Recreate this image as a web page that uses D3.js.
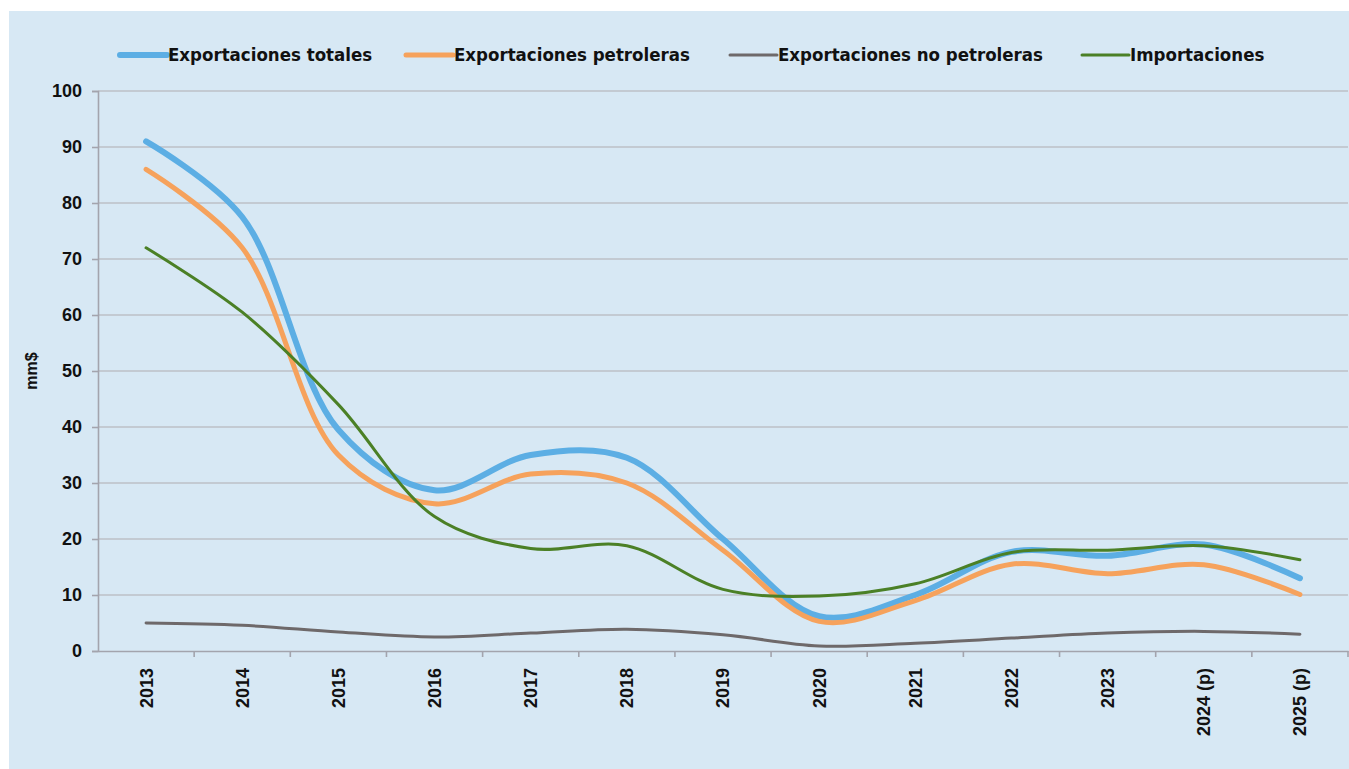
<!DOCTYPE html>
<meta charset="utf-8">
<style>
    body { margin: 0; background: #ffffff; }
    svg { display: block; }
    .tick text { font-family: "Liberation Sans", Arial, sans-serif; font-weight: bold; font-size: 18px; fill: #111; }
    .legend text { font-family: "DejaVu Sans Condensed", "DejaVu Sans", sans-serif; font-weight: bold; font-size: 18.5px; fill: #111; }
</style>
<svg id="chart"></svg>
<script src="https://cdn.jsdelivr.net/npm/d3@7"></script>
<script>
    // data (mm$)
    var years = ["2013", "2014", "2015", "2016", "2017", "2018", "2019", "2020", "2021", "2022", "2023", "2024 (p)", "2025 (p)"];
    var expTotales = [91, 77.5, 39.5, 28.7, 35, 34.5, 20, 6.2, 10, 17.7, 17, 19, 13];
    var expPetroleras = [86, 72, 35, 26.3, 31.6, 30, 18, 5.3, 9, 15.5, 13.8, 15.4, 10.1];
    var expNoPetroleras = [5, 4.6, 3.4, 2.5, 3.2, 3.9, 2.9, 0.9, 1.4, 2.3, 3.2, 3.5, 3.0];
    var importaciones = [72, 60.5, 44, 24, 18.3, 18.8, 11, 9.8, 12, 17.6, 18, 18.8, 16.3];
    var yTicks = [0, 10, 20, 30, 40, 50, 60, 70, 80, 90, 100];

    var series = [
        {name: "Exportaciones totales", values: expTotales, color: "#5caee4", width: 6},
        {name: "Exportaciones petroleras", values: expPetroleras, color: "#f6a25c", width: 5},
        {name: "Exportaciones no petroleras", values: expNoPetroleras, color: "#6e696a", width: 3},
        {name: "Importaciones", values: importaciones, color: "#4b8026", width: 3}
    ];

    var width = 1349, height = 769;
    var svg = d3.select("#chart").attr("width", width).attr("height", height);

    // light blue panel
    svg.append("rect")
        .attr("x", 9).attr("y", 11)
        .attr("width", width - 9).attr("height", height - 11)
        .attr("fill", "#d7e8f4");

    var plotLeft = 98, plotRight = 1348, plotTop = 91, plotBottom = 651;

    var x = d3.scaleBand().domain(years).range([plotLeft, plotRight]);
    var y = d3.scaleLinear().domain([0, 100]).range([plotBottom, plotTop]);

    // gridlines
    svg.append("g")
        .selectAll("line")
        .data(yTicks.slice(1))
        .join("line")
        .attr("x1", plotLeft).attr("x2", plotRight)
        .attr("y1", d => y(d)).attr("y2", d => y(d))
        .attr("stroke", "#bcc1c7")
        .attr("stroke-width", 1.6);

    // y axis
    var yAxis = svg.append("g")
        .attr("transform", "translate(" + plotLeft + ",0)")
        .call(d3.axisLeft(y).tickValues(yTicks).tickSize(6).tickPadding(10));
    yAxis.select(".domain").attr("stroke", "#a3a4ad").attr("stroke-width", 1.6);
    yAxis.selectAll(".tick line").attr("stroke", "#a3a4ad").attr("stroke-width", 1.6);

    // x axis, ticks between categories
    var xAxis = svg.append("g")
        .attr("transform", "translate(0," + plotBottom + ")")
        .call(d3.axisBottom(x).tickSize(0));
    xAxis.select(".domain").attr("stroke", "#a3a4ad").attr("stroke-width", 1.6);
    xAxis.selectAll(".tick text")
        .attr("transform", "rotate(-90)")
        .attr("text-anchor", "end")
        .attr("x", -17)
        .attr("y", 0)
        .attr("dy", "0.36em");
    xAxis.selectAll(".sep")
        .data(years)
        .join("line")
        .attr("class", "sep")
        .attr("x1", d => x(d) + x.bandwidth())
        .attr("x2", d => x(d) + x.bandwidth())
        .attr("y1", 0).attr("y2", 6)
        .attr("stroke", "#a3a4ad").attr("stroke-width", 1.6);

    // y axis title
    svg.append("text")
        .attr("transform", "translate(37," + y(50) + ") rotate(-90)")
        .attr("text-anchor", "middle")
        .attr("font-family", "Liberation Sans, Arial, sans-serif")
        .attr("font-weight", "bold")
        .attr("font-size", 16)
        .attr("fill", "#111")
        .text("mm$");

    // smoothed lines
    var line = d3.line()
        .x((d, i) => x(years[i]) + x.bandwidth() / 2)
        .y(d => y(d))
        .curve(d3.curveCatmullRom.alpha(0.5));

    svg.append("g")
        .selectAll("path")
        .data(series)
        .join("path")
        .attr("d", d => line(d.values))
        .attr("fill", "none")
        .attr("stroke", d => d.color)
        .attr("stroke-width", d => d.width)
        .attr("stroke-linecap", "round")
        .attr("stroke-linejoin", "round");

    // legend
    var legendX = [120, 406, 730, 1082];
    var legend = svg.append("g").attr("class", "legend")
        .selectAll("g")
        .data(series)
        .join("g")
        .attr("transform", (d, i) => "translate(" + legendX[i] + ",55)");
    legend.append("line")
        .attr("x1", 0).attr("x2", 47)
        .attr("stroke", d => d.color)
        .attr("stroke-width", d => d.width)
        .attr("stroke-linecap", "round");
    legend.append("text")
        .attr("x", 48)
        .attr("dy", "0.35em")
        .text(d => d.name);
</script>
